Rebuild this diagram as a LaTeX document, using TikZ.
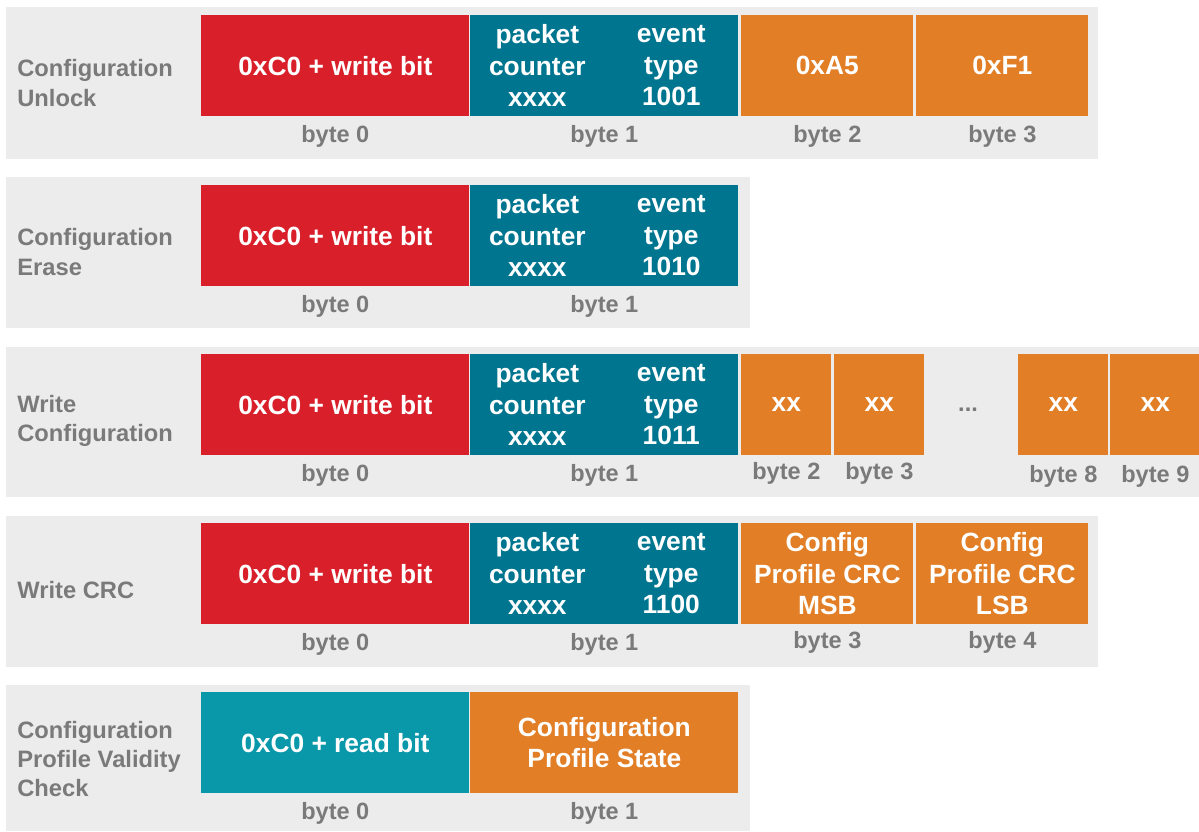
\documentclass[tikz,border=0pt]{standalone}
\usepackage{fontspec}
\setmainfont{Liberation Sans}
\usepackage{tikz}
\usetikzlibrary{shapes, positioning}
\usepackage{xcolor}

\definecolor{panelgray}{HTML}{ECECEC}
\definecolor{labelgray}{HTML}{7A7A7A}
\definecolor{cmdred}{HTML}{D81F2A}
\definecolor{cmdteal}{HTML}{00758F}
\definecolor{readteal}{HTML}{0898AA}
\definecolor{dataorange}{HTML}{E17E26}

\begin{document}
\begin{tikzpicture}[x=0.02cm, y=-0.02cm,
    field/.style={rectangle, anchor=north west, minimum height=2.02cm, inner sep=0pt, text=white, font=\bfseries\fontsize{15}{17.9}\selectfont, align=center},
    wide/.style={field, minimum width=5.36cm},
    mid/.style={field, minimum width=3.44cm},
    small/.style={field, minimum width=1.8cm},
    half/.style={inner sep=0pt, text=white, font=\bfseries\fontsize{15}{17.9}\selectfont, align=center},
    rowlabel/.style={anchor=west, inner sep=0pt, text=labelgray, font=\bfseries\fontsize{13.5}{16.6}\selectfont, align=left},
    bytenum/.style={inner sep=0pt, text=labelgray, font=\bfseries\fontsize{13.4}{16}\selectfont}]

    \useasboundingbox (0,0) rectangle (1199,831);

    % Gray panels behind each command
    \fill[panelgray] (6,7) rectangle (1098,159);
    \fill[panelgray] (6,177) rectangle (750,328);
    \fill[panelgray] (6,347) rectangle (1199,497);
    \fill[panelgray] (6,516) rectangle (1098,667);
    \fill[panelgray] (6,685) rectangle (750,831);

    % Configuration Unlock
    \node[rowlabel] (unlocklbl) at (17,83) {Configuration\\Unlock};
    \node[wide, fill=cmdred] (unlockaddr) at (201,15) {0xC0 + write bit};
    \node[wide, fill=cmdteal] (unlockhdr) at (470,15) {};
    \node[half] (unlockcnt) at ([xshift=-1.34cm]unlockhdr.center) {packet\\counter\\xxxx};
    \node[half] (unlockevt) at ([xshift=1.34cm]unlockhdr.center) {event\\type\\1001};
    \node[mid, fill=dataorange] (unlockkey1) at (741,15) {0xA5};
    \node[mid, fill=dataorange] (unlockkey2) at (916,15) {0xF1};
    \node[bytenum] (unlockb0) at ([yshift=-0.40cm]unlockaddr.south) {byte 0};
    \node[bytenum] (unlockb1) at ([yshift=-0.40cm]unlockhdr.south) {byte 1};
    \node[bytenum] (unlockb2) at ([yshift=-0.40cm]unlockkey1.south) {byte 2};
    \node[bytenum] (unlockb3) at ([yshift=-0.40cm]unlockkey2.south) {byte 3};

    % Configuration Erase
    \node[rowlabel] (eraselbl) at (17,252) {Configuration\\Erase};
    \node[wide, fill=cmdred] (eraseaddr) at (201,185) {0xC0 + write bit};
    \node[wide, fill=cmdteal] (erasehdr) at (470,185) {};
    \node[half] (erasecnt) at ([xshift=-1.34cm]erasehdr.center) {packet\\counter\\xxxx};
    \node[half] (eraseevt) at ([xshift=1.34cm]erasehdr.center) {event\\type\\1010};
    \node[bytenum] (eraseb0) at ([yshift=-0.40cm]eraseaddr.south) {byte 0};
    \node[bytenum] (eraseb1) at ([yshift=-0.40cm]erasehdr.south) {byte 1};

    % Write Configuration
    \node[rowlabel] (writelbl) at (17,421) {Write\\Configuration};
    \node[wide, fill=cmdred] (writeaddr) at (201,354) {0xC0 + write bit};
    \node[wide, fill=cmdteal] (writehdr) at (470,354) {};
    \node[half] (writecnt) at ([xshift=-1.34cm]writehdr.center) {packet\\counter\\xxxx};
    \node[half] (writeevt) at ([xshift=1.34cm]writehdr.center) {event\\type\\1011};
    \node[small, fill=dataorange] (writed2) at (741,354) {xx};
    \node[small, fill=dataorange] (writed3) at (834,354) {xx};
    \node[bytenum] (writedots) at (968,410) {...};
    \node[small, fill=dataorange] (writed8) at (1018,354) {xx};
    \node[small, fill=dataorange] (writed9) at (1110,354) {xx};
    \node[bytenum] (writeb0) at ([yshift=-0.40cm]writeaddr.south) {byte 0};
    \node[bytenum] (writeb1) at ([yshift=-0.40cm]writehdr.south) {byte 1};
    \node[bytenum] (writeb2) at ([yshift=-0.36cm]writed2.south) {byte 2};
    \node[bytenum] (writeb3) at ([yshift=-0.36cm]writed3.south) {byte 3};
    \node[bytenum] (writeb8) at ([yshift=-0.42cm]writed8.south) {byte 8};
    \node[bytenum] (writeb9) at ([yshift=-0.42cm]writed9.south) {byte 9};

    % Write CRC
    \node[rowlabel] (crclbl) at (17,590) {Write CRC};
    \node[wide, fill=cmdred] (crcaddr) at (201,523) {0xC0 + write bit};
    \node[wide, fill=cmdteal] (crchdr) at (470,523) {};
    \node[half] (crccnt) at ([xshift=-1.34cm]crchdr.center) {packet\\counter\\xxxx};
    \node[half] (crcevt) at ([xshift=1.34cm]crchdr.center) {event\\type\\1100};
    \node[mid, fill=dataorange] (crcmsb) at (741,523) {Config\\Profile CRC\\MSB};
    \node[mid, fill=dataorange] (crclsb) at (916,523) {Config\\Profile CRC\\LSB};
    \node[bytenum] (crcb0) at ([yshift=-0.40cm]crcaddr.south) {byte 0};
    \node[bytenum] (crcb1) at ([yshift=-0.40cm]crchdr.south) {byte 1};
    \node[bytenum] (crcb3) at ([yshift=-0.36cm]crcmsb.south) {byte 3};
    \node[bytenum] (crcb4) at ([yshift=-0.36cm]crclsb.south) {byte 4};

    % Configuration Profile Validity Check
    \node[rowlabel] (checklbl) at (17,759) {Configuration\\Profile Validity\\Check};
    \node[wide, fill=readteal] (checkaddr) at (201,692) {0xC0 + read bit};
    \node[wide, fill=dataorange] (checkstate) at (470,692) {Configuration\\Profile State};
    \node[bytenum] (checkb0) at ([yshift=-0.40cm]checkaddr.south) {byte 0};
    \node[bytenum] (checkb1) at ([yshift=-0.40cm]checkstate.south) {byte 1};

\end{tikzpicture}
\end{document}
